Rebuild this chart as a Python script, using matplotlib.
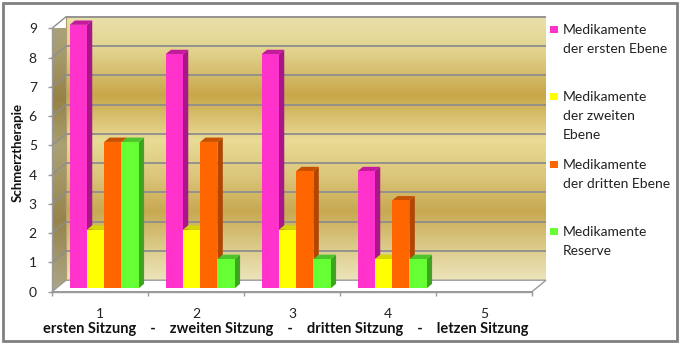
import numpy as np
import matplotlib
matplotlib.use("Agg")
import matplotlib.pyplot as plt
from matplotlib.patches import Polygon, Rectangle
from matplotlib.colors import to_rgb

plt.rcParams['font.family'] = ['Lato', 'DejaVu Sans']

# ---- data -------------------------------------------------------------
categories = [1, 2, 3, 4, 5]
sitzungen = ["ersten Sitzung", "zweiten Sitzung", "dritten Sitzung", "letzen Sitzung"]
series_names = ["Medikamente\nder ersten Ebene",
                "Medikamente\nder zweiten\nEbene",
                "Medikamente\nder dritten Ebene",
                "Medikamente\nReserve"]
erste_ebene = [9, 8, 8, 4, np.nan]
zweite_ebene = [2, 2, 2, 1, np.nan]
dritte_ebene = [5, 5, 4, 3, np.nan]
reserve = [5, 1, 1, 1, np.nan]
y_ticks = list(range(10))
y_label = "Schmerztherapie"

series = [erste_ebene, zweite_ebene, dritte_ebene, reserve]

# ---- styling ------------------------------------------------------------
front_colors = ["#FF33CC", "#FFFF00", "#FF6600", "#66FF33"]
side_colors = ["#A8168A", "#BDBD00", "#B04600", "#3EA522"]
top_colors = ["#C41A9E", "#D6D600", "#C85000", "#4CC52A"]
grid_color = "#8E8E8E"
edge_gray = "#9A9A9A"

W, H = 681, 343
fig = plt.figure(figsize=(W / 100, H / 100), dpi=100)
fig.patch.set_facecolor("white")

ax_left, ax_right = 52, 532
ax_top, ax_bottom = 28.3, 291.7
ax = fig.add_axes([ax_left / W, (H - ax_bottom) / H,
                   (ax_right - ax_left) / W, (ax_bottom - ax_top) / H])
ax.set_facecolor("none")

XMIN, XMAX, YMIN, YMAX = 0.5, 5.5, 0, 9
px_per_x = (ax_right - ax_left) / (XMAX - XMIN)
px_per_y = (ax_bottom - ax_top) / (YMAX - YMIN)
# depth of the pseudo-3D box, in data units
DX = 14 / px_per_x
DY = 11.5 / px_per_y


def gradient(stops, n=400):
    pos = np.array([s[0] for s in stops])
    cols = np.array([to_rgb(s[1]) for s in stops])
    t = np.linspace(0, 1, n)
    out = np.stack([np.interp(t, pos, cols[:, k]) for k in range(3)], axis=-1)
    return out[:, None, :]


wall_stops = [(0.00, "#EAE0AA"), (0.13, "#E2D38F"), (0.30, "#C8A749"),
              (0.47, "#E9DB96"), (0.60, "#DCC77B"), (0.74, "#C8A952"),
              (0.88, "#DCCB8A"), (1.00, "#EDE4BC")]
wall_img = gradient(wall_stops)

# back wall
ax.imshow(wall_img, extent=(XMIN + DX, XMAX + DX, YMIN + DY, YMAX + DY),
          origin="upper", aspect="auto", zorder=0, clip_on=False,
          interpolation="bilinear")

# left side wall (darker, greyer)
gray = np.array([0.55, 0.52, 0.45])
side_img = wall_img * 0.60 + gray[None, None, :] * 0.22
side_poly = Polygon([(XMIN, YMIN), (XMIN, YMAX), (XMIN + DX, YMAX + DY),
                     (XMIN + DX, YMIN + DY)], closed=True,
                    transform=ax.transData)
im_side = ax.imshow(side_img, extent=(XMIN, XMIN + DX, YMIN, YMAX + DY),
                    origin="upper", aspect="auto", zorder=0.5, clip_on=True,
                    interpolation="bilinear")
im_side.set_clip_path(side_poly)

# floor
floor = Polygon([(XMIN, YMIN), (XMAX, YMIN), (XMAX + DX, YMIN + DY),
                 (XMIN + DX, YMIN + DY)], closed=True, facecolor="white",
                edgecolor=edge_gray, lw=1.0, zorder=1, clip_on=False)
ax.add_patch(floor)

# gridlines on back wall and side wall
for k in y_ticks:
    if k > 0:
        ax.plot([XMIN + DX, XMAX + DX], [k + DY, k + DY], color=grid_color,
                lw=1.3, zorder=1.2, clip_on=False, solid_capstyle="butt")
        ax.plot([XMIN, XMIN + DX], [k, k + DY], color=grid_color,
                lw=1.0, zorder=1.2, clip_on=False)
ax.plot([XMIN + DX, XMIN + DX], [YMIN + DY, YMAX + DY], color="#B0A070",
        lw=0.8, zorder=1.1, clip_on=False)

# bars with visible side and top faces
bar_w = 0.18
f_front, f_back = 0.30, 0.68
ddx = (f_back - f_front) * DX
ddy = (f_back - f_front) * DY
base = f_front * DY
for i, vals in enumerate(series):
    xs = [c + (i - 2) * bar_w + f_front * DX for c in categories]
    z = 3 + i * 0.1
    ax.bar(xs, vals, width=bar_w, bottom=base, align="edge",
           color=front_colors[i], zorder=z + 0.05, clip_on=False,
           edgecolor="none")
    for x0, v in zip(xs, vals):
        if np.isnan(v):
            continue
        x1 = x0 + bar_w
        top = base + v
        ax.add_patch(Polygon([(x1, base), (x1, top), (x1 + ddx, top + ddy),
                              (x1 + ddx, base + ddy)], closed=True,
                             facecolor=side_colors[i], edgecolor="none",
                             zorder=z, clip_on=False))
        ax.add_patch(Polygon([(x0, top), (x1, top), (x1 + ddx, top + ddy),
                              (x0 + ddx, top + ddy)], closed=True,
                             facecolor=top_colors[i], edgecolor="none",
                             zorder=z, clip_on=False))

# axes, ticks and labels
ax.set_xlim(XMIN, XMAX)
ax.set_ylim(YMIN, YMAX)
for s in ("top", "right"):
    ax.spines[s].set_visible(False)
for s in ("left", "bottom"):
    ax.spines[s].set_color(edge_gray)
    ax.spines[s].set_linewidth(1.0)
    ax.spines[s].set_zorder(2)

ax.set_yticks(y_ticks)
ax.set_yticklabels([str(t) for t in y_ticks])
ax.tick_params(axis="y", length=2.9, width=1.0, color=edge_gray, pad=8,
               labelsize=10, labelcolor="#222222")
ax.set_xticks(categories)
ax.set_xticklabels([str(c) for c in categories])
ax.set_xticks([c - 0.5 for c in categories] + [categories[-1] + 0.5],
              minor=True)
ax.tick_params(axis="x", which="major", length=0, pad=12, labelsize=10,
               labelcolor="#222222")
ax.tick_params(axis="x", which="minor", length=2.9, width=1.0,
               color=edge_gray)

ax.set_xlabel("    -    ".join(sitzungen), fontsize=10.5, fontweight="bold",
              color="#111111", va="center")
ax.xaxis.set_label_coords((286 - ax_left) / (ax_right - ax_left),
                          (ax_bottom - 329) / (ax_bottom - ax_top))
ax.set_ylabel(y_label, fontsize=9.5, fontweight="bold", color="#111111",
              va="center")
ax.yaxis.set_label_coords((17.5 - ax_left) / (ax_right - ax_left),
                          (ax_bottom - 153) / (ax_bottom - ax_top))

# legend on the right
legend_line1_y = [30, 97, 165, 232]
line_h = 19
for name, col, y0 in zip(series_names, front_colors, legend_line1_y):
    fig.patches.append(Rectangle((550 / W, (H - y0 - 3) / H), 7.5 / W, 7.5 / H,
                                 transform=fig.transFigure, facecolor=col,
                                 edgecolor="none"))
    for k, line in enumerate(name.split("\n")):
        fig.text(563 / W, (H - (y0 + k * line_h)) / H, line, fontsize=10,
                 color="#222222", ha="left", va="center")

# chart frame
fig.patches.append(Rectangle((3 / W, 2.5 / H), 674 / W, 338 / H,
                             transform=fig.transFigure, facecolor="none",
                             edgecolor="#808080", lw=2))

fig.savefig("out.png", dpi=100)
